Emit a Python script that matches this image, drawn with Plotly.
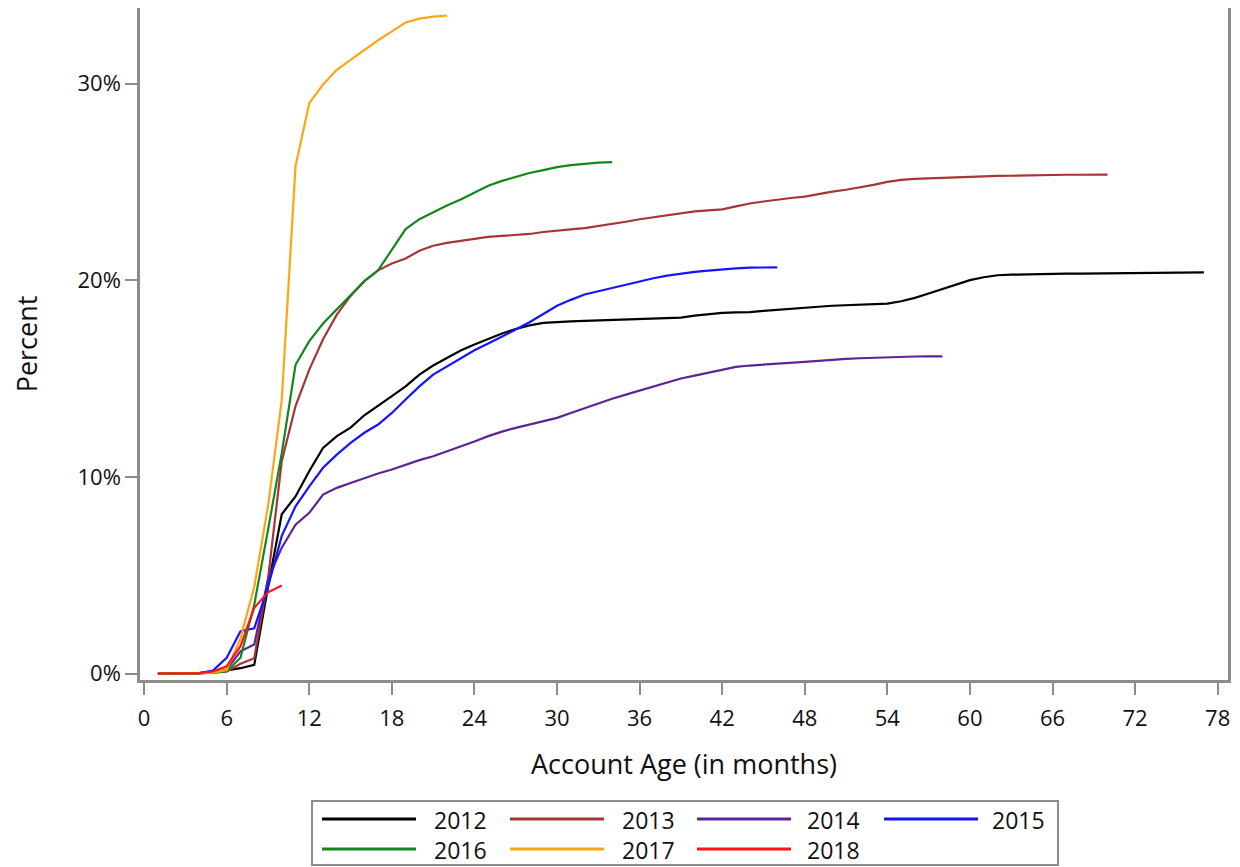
import plotly.graph_objects as go

years = ["2012", "2013", "2014", "2015", "2016", "2017", "2018"]
colors = ["#000000", "#A83434", "#5C2497", "#1414FF", "#14861E", "#FFA514", "#FF1414"]

y2012 = [0, 0, 0, 0.02, 0.05, 0.15, 0.27, 0.44, 4.4, 8.1,
         9.0, 10.3, 11.47, 12.07, 12.5, 13.13, 13.6, 14.1, 14.6, 15.2,
         15.66, 16.05, 16.42, 16.73, 17.03, 17.29, 17.52, 17.7, 17.83, 17.88,
         17.91, 17.93, 17.95, 17.97, 18.0, 18.03, 18.05, 18.08, 18.1, 18.2,
         18.28, 18.34, 18.36, 18.38, 18.44, 18.5, 18.55, 18.6, 18.65, 18.7,
         18.73, 18.75, 18.77, 18.81, 18.93, 19.1, 19.32, 19.56, 19.78, 20.0,
         20.15, 20.25, 20.28, 20.3, 20.31, 20.32, 20.33, 20.33, 20.34, 20.35,
         20.36, 20.37, 20.38, 20.39, 20.39, 20.4, 20.4]
y2013 = [0, 0, 0, 0.02, 0.05, 0.1, 0.5, 0.78, 4.8, 10.8,
         13.6, 15.45, 17.0, 18.25, 19.2, 19.95, 20.5, 20.85, 21.1, 21.5,
         21.75, 21.9, 22.0, 22.1, 22.2, 22.25, 22.3, 22.35, 22.45, 22.5,
         22.58, 22.65, 22.75, 22.85, 22.97, 23.1, 23.2, 23.3, 23.4, 23.5,
         23.55, 23.6, 23.75, 23.9, 24.0, 24.1, 24.18, 24.25, 24.38, 24.5,
         24.6, 24.72, 24.85, 25.0, 25.1, 25.15, 25.18, 25.2, 25.23, 25.25,
         25.28, 25.3, 25.31, 25.33, 25.34, 25.35, 25.36, 25.36, 25.37, 25.37]
y2014 = [0, 0, 0, 0.02, 0.05, 0.2, 1.13, 1.47, 4.8, 6.4,
         7.57, 8.17, 9.1, 9.44, 9.69, 9.95, 10.17, 10.37, 10.63, 10.85,
         11.05, 11.29, 11.52, 11.8, 12.07, 12.3, 12.49, 12.66, 12.81, 13.0,
         13.25, 13.5, 13.75, 13.97, 14.18, 14.38, 14.6, 14.8, 15.0, 15.15,
         15.3, 15.45, 15.59, 15.66, 15.7, 15.74, 15.8, 15.85, 15.9, 15.96,
         16.0, 16.03, 16.06, 16.09, 16.11, 16.12, 16.13, 16.13]
y2015 = [0, 0, 0, 0.02, 0.15, 0.8, 2.15, 2.3, 4.4, 7.0,
         8.5, 9.52, 10.46, 11.13, 11.73, 12.24, 12.66, 13.25, 13.93, 14.6,
         15.2, 15.62, 16.05, 16.44, 16.78, 17.12, 17.49, 17.86, 18.3, 18.7,
         19.0, 19.27, 19.44, 19.6, 19.78, 19.95, 20.1, 20.23, 20.33, 20.42,
         20.49, 20.56, 20.6, 20.64, 20.66, 20.65]
y2016 = [0, 0, 0, 0.02, 0.05, 0.1, 0.8, 3.5, 7.3, 11.2,
         15.7, 16.9, 17.8, 18.5, 19.2, 19.95, 20.5, 21.55, 22.6, 23.1,
         23.45, 23.8, 24.1, 24.45, 24.8, 25.05, 25.25, 25.45, 25.6, 25.75,
         25.85, 25.93, 25.98, 26.0]
y2017 = [0, 0, 0, 0.02, 0.05, 0.18, 1.8, 4.4, 8.5, 13.9,
         25.8, 29.0, 29.95, 30.7, 31.2, 31.7, 32.2, 32.65, 33.1, 33.3,
         33.4, 33.45]
y2018 = [0, 0, 0, 0.02, 0.1, 0.37, 1.39, 3.34, 4.13, 4.47]

series = [y2012, y2013, y2014, y2015, y2016, y2017, y2018]

x_ticks = list(range(0, 79, 6))
y_ticks = [0, 10, 20, 30]

FONT = "Open Sans, DejaVu Sans, sans-serif"
GRAY = "#8c8c8c"

fig = go.Figure()
for name, col, vals in zip(years, colors, series):
    fig.add_trace(go.Scatter(
        x=list(range(1, len(vals) + 1)), y=vals, mode="lines", name=name,
        line=dict(color=col, width=2.2), showlegend=False))

# the page body has an 8px margin; the figure is sized/placed to compensate
OFF = 8
W, H = 1240 - OFF, 867 - OFF
# plot-area edges in page pixels
L, R, T, B = 140, 1228, 8, 680


def px(xp):
    return (xp - L) / (R - L)


def py(yp):
    return (B - yp) / (B - T)


# manual legend (box, line samples, labels) in page-pixel positions
shapes = [dict(type="rect", xref="paper", yref="paper",
               x0=px(312), x1=px(1058), y0=py(865), y1=py(801),
               line=dict(color=GRAY, width=2), fillcolor="white")]
annotations = []
col_x = [322, 510, 697, 884]
txt_x = [432, 620, 805, 990]
rows_y = [819, 849]
for i, (name, col) in enumerate(zip(years, colors)):
    r, c = divmod(i, 4)
    shapes.append(dict(type="line", xref="paper", yref="paper",
                       x0=px(col_x[c]), x1=px(col_x[c] + 94),
                       y0=py(rows_y[r]), y1=py(rows_y[r]),
                       line=dict(color=col, width=3)))
    annotations.append(dict(text=name, xref="paper", yref="paper",
                            x=px(txt_x[c]), y=py(rows_y[r] + 1),
                            xanchor="left", yanchor="middle", showarrow=False,
                            font=dict(family=FONT, size=23, color="#111")))

fig.update_layout(
    width=W, height=H,
    margin=dict(l=L - OFF, r=1240 - R, t=T - OFF, b=867 - B, autoexpand=False),
    paper_bgcolor="white", plot_bgcolor="white",
    font=dict(family=FONT, size=22, color="#111"),
    shapes=shapes, annotations=annotations,
    xaxis=dict(range=[-0.3, 78.75], tickvals=x_ticks, ticks="outside",
               ticklen=12, tickwidth=2, tickcolor=GRAY, ticklabelstandoff=5,
               showline=True, linecolor=GRAY, linewidth=2.5, mirror=True,
               showgrid=False, zeroline=False,
               tickfont=dict(size=22),
               title=dict(text="Account Age (in months)",
                          font=dict(size=27), standoff=24)),
    yaxis=dict(range=[-0.33, 33.84], tickvals=y_ticks,
               ticktext=[f"{v}%" for v in y_ticks], ticks="outside",
               ticklen=12, tickwidth=2, tickcolor=GRAY,
               showline=True, linecolor=GRAY, linewidth=2.5, mirror=True,
               showgrid=False, zeroline=False,
               tickfont=dict(size=22),
               title=dict(text="Percent", font=dict(size=27), standoff=43)),
)

fig.write_html("out.html")
